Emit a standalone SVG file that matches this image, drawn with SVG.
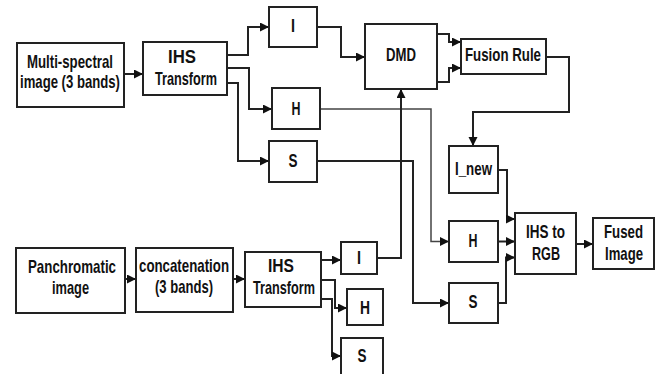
<svg xmlns="http://www.w3.org/2000/svg" width="659" height="374" viewBox="0 0 659 374">
  <style>
    .box { fill: #ffffff; stroke: #222222; stroke-width: 2; }
    .lbl { font-family: "Liberation Sans", Arial, sans-serif; font-weight: bold; font-size: 18.5px; fill: #111111; text-anchor: middle; }
    .wire { fill: none; stroke: #222222; stroke-width: 2; marker-end: url(#arrow); }
    .thin { fill: none; stroke: #444444; stroke-width: 1.5; marker-end: url(#arrow); }
  </style>
  <defs>
    <marker id="arrow" markerUnits="userSpaceOnUse" markerWidth="10" markerHeight="10" refX="9" refY="4.5" orient="auto">
      <path d="M0,0 L9,4.5 L0,9 Z" fill="#111111"/>
    </marker>
  </defs>
  <rect width="659" height="374" fill="#ffffff"/>

  <!-- connectors -->
  <g id="connectors">
    <path class="wire" d="M125,74 H143"/>
    <path class="wire" d="M227,55 H248 V27 H269"/>
    <path class="wire" d="M227,68 H249 V109 H272"/>
    <path class="wire" d="M227,83 H238 V161 H269"/>
    <path class="wire" d="M317,27 H341 V57 H365"/>
    <path class="wire" d="M437,34 H449 V42 H461"/>
    <path class="wire" d="M437,82 H449 V68 H461"/>
    <path class="wire" d="M546,57 H569 V112 H473 V146"/>
    <path class="thin" d="M320,109 H431 V241.5 H449"/>
    <path class="wire" d="M317,161 H413 V303 H449"/>
    <path class="wire" d="M498,170 H507 V219 H515"/>
    <path class="wire" d="M498,241.5 H515"/>
    <path class="wire" d="M498,303 H506 V257.5 H515"/>
    <path class="wire" d="M576,244 H593"/>
    <path class="wire" d="M125,279 H136"/>
    <path class="wire" d="M233,279 H245"/>
    <path class="wire" d="M321,260 H341"/>
    <path class="wire" d="M321,280 H335 V308 H347"/>
    <path class="wire" d="M321,299 H332 V356 H341"/>
    <path class="wire" d="M377,258 H401 V89"/>
  </g>

  <!-- multispectral branch -->
  <g id="multispectral">
    <rect class="box" x="17" y="43" width="107" height="64"/>
    <text class="lbl" x="70" y="68" textLength="86" lengthAdjust="spacingAndGlyphs">Multi-spectral</text>
    <text class="lbl" x="70" y="88" textLength="100" lengthAdjust="spacingAndGlyphs">image (3 bands)</text>
  </g>
  <g id="ihs-top">
    <rect class="box" x="143" y="42" width="84" height="53"/>
    <text class="lbl" x="182" y="63" textLength="28" lengthAdjust="spacingAndGlyphs">IHS</text>
    <text class="lbl" x="186" y="85" textLength="62" lengthAdjust="spacingAndGlyphs">Transform</text>
  </g>
  <g id="i-top">
    <rect class="box" x="269" y="7" width="48" height="40"/>
    <text class="lbl" x="293" y="32" textLength="4" lengthAdjust="spacingAndGlyphs">I</text>
  </g>
  <g id="h-top">
    <rect class="box" x="272" y="88" width="48" height="41"/>
    <text class="lbl" x="296" y="115" textLength="9" lengthAdjust="spacingAndGlyphs">H</text>
  </g>
  <g id="s-top">
    <rect class="box" x="269" y="141" width="48" height="41"/>
    <text class="lbl" x="293" y="167" textLength="9" lengthAdjust="spacingAndGlyphs">S</text>
  </g>

  <!-- fusion stage -->
  <g id="dmd">
    <rect class="box" x="365" y="24" width="72" height="65"/>
    <text class="lbl" x="401" y="61" textLength="30" lengthAdjust="spacingAndGlyphs">DMD</text>
  </g>
  <g id="fusion-rule">
    <rect class="box" x="461" y="39" width="85" height="35"/>
    <text class="lbl" x="503" y="61" textLength="76" lengthAdjust="spacingAndGlyphs">Fusion Rule</text>
  </g>
  <g id="i-new">
    <rect class="box" x="449" y="146" width="49" height="47"/>
    <text class="lbl" x="473.5" y="175" textLength="37" lengthAdjust="spacingAndGlyphs">I_new</text>
  </g>
  <g id="h-mid">
    <rect class="box" x="449" y="221" width="49" height="41"/>
    <text class="lbl" x="473" y="247" textLength="9" lengthAdjust="spacingAndGlyphs">H</text>
  </g>
  <g id="s-mid">
    <rect class="box" x="449" y="283" width="49" height="40"/>
    <text class="lbl" x="473" y="308" textLength="9" lengthAdjust="spacingAndGlyphs">S</text>
  </g>
  <g id="ihs-to-rgb">
    <rect class="box" x="515" y="213" width="61" height="61"/>
    <text class="lbl" x="545.5" y="238" textLength="39" lengthAdjust="spacingAndGlyphs">IHS to</text>
    <text class="lbl" x="546" y="260" textLength="28" lengthAdjust="spacingAndGlyphs">RGB</text>
  </g>
  <g id="fused-image">
    <rect class="box" x="593" y="218" width="61" height="51"/>
    <text class="lbl" x="623.5" y="238" textLength="39" lengthAdjust="spacingAndGlyphs">Fused</text>
    <text class="lbl" x="624" y="260" textLength="38" lengthAdjust="spacingAndGlyphs">Image</text>
  </g>

  <!-- panchromatic branch -->
  <g id="panchromatic">
    <rect class="box" x="16" y="248" width="109" height="65"/>
    <text class="lbl" x="72" y="273" textLength="88" lengthAdjust="spacingAndGlyphs">Panchromatic</text>
    <text class="lbl" x="70.5" y="294" textLength="37" lengthAdjust="spacingAndGlyphs">image</text>
  </g>
  <g id="concatenation">
    <rect class="box" x="136" y="248" width="97" height="64"/>
    <text class="lbl" x="184" y="272" textLength="90" lengthAdjust="spacingAndGlyphs">concatenation</text>
    <text class="lbl" x="184" y="293" textLength="58" lengthAdjust="spacingAndGlyphs">(3 bands)</text>
  </g>
  <g id="ihs-bottom">
    <rect class="box" x="245" y="252" width="76" height="55"/>
    <text class="lbl" x="281" y="272" textLength="26" lengthAdjust="spacingAndGlyphs">IHS</text>
    <text class="lbl" x="284" y="294" textLength="62" lengthAdjust="spacingAndGlyphs">Transform</text>
  </g>
  <g id="i-bottom">
    <rect class="box" x="341" y="242" width="36" height="32"/>
    <text class="lbl" x="359" y="264" textLength="4" lengthAdjust="spacingAndGlyphs">I</text>
  </g>
  <g id="h-bottom">
    <rect class="box" x="347" y="289" width="36" height="36"/>
    <text class="lbl" x="365" y="314" textLength="10" lengthAdjust="spacingAndGlyphs">H</text>
  </g>
  <g id="s-bottom">
    <rect class="box" x="341" y="338" width="42" height="37"/>
    <text class="lbl" x="362" y="362" textLength="9" lengthAdjust="spacingAndGlyphs">S</text>
  </g>
</svg>
